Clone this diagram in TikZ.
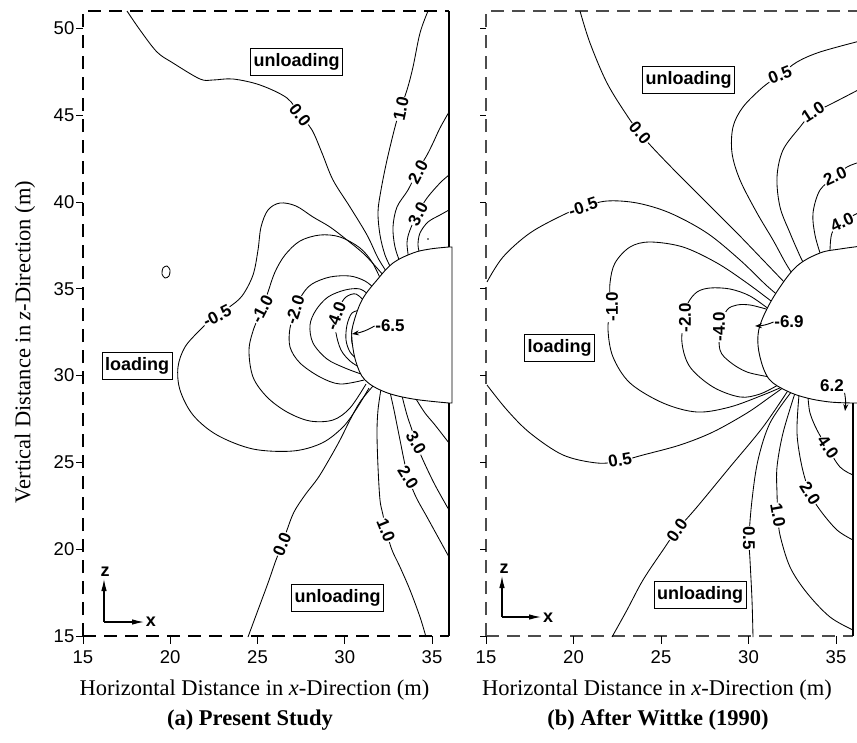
\documentclass[tikz,border=0pt]{standalone}
\usepackage{fontspec}
\setmainfont{Liberation Serif}
\setsansfont{Liberation Sans}
\usetikzlibrary{arrows.meta}
\tikzset{
  cline/.style={line width=0.85pt, line join=round},
  clab/.style={font=\fontsize{17}{17}\selectfont\sffamily\bfseries, fill=white, inner sep=0.6pt},
  zonebox/.style={draw, line width=0.8pt, font=\fontsize{18}{18}\selectfont\sffamily\bfseries, inner xsep=3pt, inner ysep=0pt, minimum height=27pt},
  framedash/.style={line width=1.2pt, dash pattern=on 13pt off 8pt},
  framesolid/.style={line width=1.2pt},
  tickln/.style={line width=1pt},
  ticklab/.style={font=\fontsize{18.5}{18.5}\selectfont\sffamily, inner sep=0pt},
  axtitle/.style={font=\fontsize{22.5}{22.5}\selectfont, inner sep=0pt},
  captxt/.style={font=\fontsize{22.5}{22.5}\selectfont\bfseries, inner sep=0pt},
  axarrow/.style={line width=1.1pt, -{Latex[length=12pt,width=5.5pt]}},
  axletter/.style={font=\fontsize{18}{18}\selectfont\sffamily\bfseries, inner sep=0pt},
  minarrow/.style={line width=0.9pt, -{Stealth[length=7pt,width=5pt]}},
  tunnel/.style={line width=0.9pt, fill=white}
}
\begin{document}
\begin{tikzpicture}[x=1pt,y=-1pt]
\useasboundingbox (0,0) rectangle (857,742);

% ================= PANEL A frame =================
\draw[framedash] (83,636) -- (83,11) -- (449,11);
\draw[framedash] (83,636) -- (449,636);
% ================= PANEL B frame =================
\draw[framedash, black!70] (486,636) -- (486,11) -- (870,11);
\draw[framedash, black!70] (486,636) -- (853,636);

% ticks
\foreach \v/\yy in {15/636,20/549.2,25/462.4,30/375.6,35/288.8,40/202,45/115.2,50/28.4} {
  \draw[tickln] (76,\yy) -- (83,\yy);
  \draw[tickln] (480,\yy) -- (486,\yy);
  \node[ticklab, anchor=east] (ya\v) at (74.5,\yy) {\v};
}
\foreach \v/\xx in {15/83,20/170.25,25/257.5,30/344.75,35/432} {
  \draw[tickln] (\xx,636) -- (\xx,644);
  \node[ticklab] (xa\v) at (\xx,657) {\v};
}
\foreach \v/\xx in {15/486,20/573.5,25/661,30/748.5,35/836} {
  \draw[tickln] (\xx,636) -- (\xx,644);
  \node[ticklab] (xb\v) at (\xx,657) {\v};
}

% ================= PANEL A contours =================
% 0.0 upper
\draw[cline] plot[smooth, tension=0.55] coordinates {(127,11) (140,30) (157,52) (173,63) (200,79) (213,80) (233,79) (260,85) (287,98) (300,115) (312,130) (322,153) (333,180) (350,207) (367,235) (378,258) (388,274)};
% 1.0 upper
\draw[cline] plot[smooth, tension=0.55] coordinates {(428,11) (420,33) (413,67) (407,90) (400,110) (395,127) (387,160) (381,190) (378,212) (380,235) (385,255) (392,270)};
% 2.0 upper
\draw[cline] plot[smooth, tension=0.55] coordinates {(449,112) (440,128) (433,143) (427,155) (417,172) (408,190) (397,207) (393,227) (395,247) (401,265)};
% 3.0 upper
\draw[cline] plot[smooth, tension=0.55] coordinates {(449,175) (440,183) (427,198) (418,213) (410,230) (407,243) (409,260)};
% 4.0 upper
\draw[cline] plot[smooth, tension=0.55] coordinates {(449,210) (440,215) (428,222) (420,233) (418,245) (420,255)};
\fill (428,239) circle (0.9);
% -0.5 loop
\draw[cline] plot[smooth, tension=0.55] coordinates {(384,276) (365,255) (347,240) (330,227) (313,217) (296,206) (280,203) (268,210) (261,227) (258,250) (253,275) (242,296) (228,308) (215,316) (200,330) (185,347) (178,367) (180,390) (193,415) (217,435) (253,449) (293,451) (322,443) (343,427) (357,408) (369,388)};
% -1.0 loop
\draw[cline] plot[smooth, tension=0.55] coordinates {(381,280) (372,262) (360,248) (340,237) (320,235) (300,241) (285,255) (275,272) (268,292) (262,310) (254,328) (249,350) (253,377) (267,397) (287,412) (310,421) (333,420) (350,408) (366,384)};
% -2.0 loop
\draw[cline] plot[smooth, tension=0.55] coordinates {(375,289) (365,281) (350,276) (330,277) (312,284) (302,295) (296,310) (290,328) (290,347) (300,363) (320,377) (340,384) (364,380)};
% -3.0 loop
\draw[cline] plot[smooth, tension=0.55] coordinates {(370,296) (360,289) (345,290) (328,297) (316,310) (310,325) (313,343) (327,359) (345,368) (361,374)};
% -4.0 loop
\draw[cline] plot[smooth, tension=0.55] coordinates {(366,303) (356,294) (346,297) (340,306) (336,318) (336,333) (341,350) (350,361) (359,367)};
% -5.0 loop
\draw[cline] plot[smooth, tension=0.55] coordinates {(361,310) (352,313) (347,325) (346,340) (350,352) (357,359)};
% -6.0 loop
\draw[cline] plot[smooth, tension=0.55] coordinates {(357,320) (352,330) (352,343) (356,352)};
% 0.0 lower
\draw[cline] plot[smooth, tension=0.55] coordinates {(373,386) (360,402) (350,420) (340,440) (330,458) (318,478) (305,495) (294,512) (287,530) (282,545) (276,560) (268,583) (258,610) (248,637)};
% 1.0 lower
\draw[cline] plot[smooth, tension=0.55] coordinates {(381,389) (378,410) (377,433) (378,467) (380,500) (383,515) (386,530) (392,550) (400,567) (410,590) (420,617) (426,637)};
% 2.0 lower
\draw[cline] plot[smooth, tension=0.55] coordinates {(390,392) (394,410) (397,425) (400,440) (404,460) (408,477) (416,497) (427,517) (438,537) (449,557)};
% 3.0 lower
\draw[cline] plot[smooth, tension=0.55] coordinates {(402,396) (407,415) (412,430) (416,443) (423,460) (435,485) (449,510)};
% 4.0 lower
\draw[cline] plot[smooth, tension=0.55] coordinates {(416,399) (425,413) (435,425) (449,443)};
% small closed contour
\draw[cline] plot[smooth cycle] coordinates {(163,268) (167,266) (170,270) (169,276) (165,278) (162,274)};

% tunnel A
\draw[tunnel] plot[smooth, tension=0.6] coordinates {(449,247) (430,249) (413,253) (393,263) (377,280) (362,300) (353,325) (352,340) (356,362) (365,380) (385,392) (413,399) (449,403)} -- (452,403) -- (452,247) -- cycle;
\draw[framesolid] (449,11) -- (449,247);
\draw[framesolid] (449,403) -- (449,636);

% ================= PANEL B contours =================
% 0.0 upper
\draw[cline] plot[smooth, tension=0.55] coordinates {(580,11) (590,43) (607,83) (628,117) (640,133) (652,147) (677,173) (707,203) (737,233) (763,260) (786,284)};
% -0.5
\draw[cline] plot[smooth, tension=0.55] coordinates {(487,282) (503,257) (530,233) (563,215) (583,207) (607,201) (637,203) (670,213) (707,233) (740,260) (766,285) (780,297)};
% -1.0
\draw[cline] plot[smooth, tension=0.55] coordinates {(775,304) (747,283) (717,263) (683,247) (650,242) (630,247) (615,263) (610,283) (610,307) (608,330) (613,357) (630,383) (663,403) (697,412) (730,407) (763,395) (782,387)};
% -2.0
\draw[cline] plot[smooth, tension=0.55] coordinates {(770,310) (750,296) (730,289) (710,288) (697,292) (688,303) (684,318) (682,343) (690,367) (713,387) (740,397) (760,394) (778,385)};
% -4.0
\draw[cline] plot[smooth, tension=0.55] coordinates {(766,309) (750,305) (737,305) (727,310) (720,327) (720,350) (730,362) (747,372) (770,377)};
% 0.5 upper
\draw[cline] plot[smooth, tension=0.55] coordinates {(860,41) (820,52) (797,62) (780,75) (763,87) (743,107) (733,127) (732,153) (740,180) (757,213) (773,240) (785,262) (793,275)};
% 1.0 upper
\draw[cline] plot[smooth, tension=0.55] coordinates {(860,89) (827,106) (813,112) (800,127) (783,150) (777,177) (780,207) (790,233) (800,256) (805,266)};
% 2.0 upper
\draw[cline] plot[smooth, tension=0.55] coordinates {(860,162) (847,167) (835,177) (820,190) (813,213) (815,235) (821,256)};
% 4.0 upper
\draw[cline] plot[smooth, tension=0.55] coordinates {(860,212) (842,222) (832,233) (830,251)};
% 0.5 from left edge
\draw[cline] plot[smooth, tension=0.55] coordinates {(487,385) (507,410) (530,433) (563,455) (597,463) (620,461) (643,455) (680,445) (713,432) (747,413) (770,397) (784,387)};
% 0.0 lower
\draw[cline] plot[smooth, tension=0.55] coordinates {(789,389) (763,427) (730,467) (697,507) (677,530) (663,550) (643,580) (627,610) (612,637)};
% 0.5 lower
\draw[cline] plot[smooth, tension=0.55] coordinates {(792,391) (770,423) (758,460) (752,500) (749,538) (750,560) (752,600) (753,637)};
% 1.0 lower
\draw[cline] plot[smooth, tension=0.55] coordinates {(795,393) (783,433) (777,467) (777,493) (778,515) (780,535) (790,567) (807,593) (830,617) (853,630)};
% 2.0 lower
\draw[cline] plot[smooth, tension=0.55] coordinates {(799,395) (797,433) (802,467) (810,493) (820,510) (837,530) (853,540)};
% 4.0 lower
\draw[cline] plot[smooth, tension=0.55] coordinates {(808,397) (810,413) (817,430) (827,447) (840,467) (853,475)};

% tunnel B
\draw[tunnel] plot[smooth, tension=0.6] coordinates {(862,246) (840,249) (820,253) (797,266) (778,290) (764,315) (758,335) (760,357) (769,379) (787,391) (807,398) (830,402) (853,403)} -- (862,403) -- cycle;
\draw[framesolid] (853,403) -- (853,636);

% ================= contour labels A =================
\node[clab, rotate=-52] (la00u) at (300,115) {0.0};
\node[clab, rotate=78] (la10u) at (401,109) {1.0};
\node[clab, rotate=62] (la20u) at (418,172) {2.0};
\node[clab, rotate=62] (la30u) at (418,214) {3.0};
\node[clab, rotate=27] (lam05) at (217,316) {-0.5};
\node[clab, rotate=63] (lam10) at (262,309) {-1.0};
\node[clab, rotate=72] (lam20) at (295,310) {-2.0};
\node[clab, rotate=70] (lam40) at (336,316) {-4.0};
\node[clab, rotate=68] (la00l) at (282,544) {0.0};
\node[clab, rotate=-68] (la10l) at (386,530) {1.0};
\node[clab, rotate=-58] (la20l) at (408,477) {2.0};
\node[clab, rotate=-60] (la30l) at (416,443) {3.0};
\node[clab, fill=none] (lamin) at (390,326) {-6.5};
\draw[minarrow] (lamin.west) to[bend left=10] (352,334);

% ================= contour labels B =================
\node[clab, rotate=-50] (lb00u) at (640,133) {0.0};
\node[clab, rotate=18] (lbm05) at (583,207) {-0.5};
\node[clab, rotate=90] (lbm10) at (612,307) {-1.0};
\node[clab, rotate=90] (lbm20) at (685,318) {-2.0};
\node[clab, rotate=90] (lbm40) at (719,327) {-4.0};
\node[clab, rotate=22] (lb05u) at (780,75) {0.5};
\node[clab, rotate=33] (lb10u) at (813,112) {1.0};
\node[clab, rotate=25] (lb20u) at (835,176) {2.0};
\node[clab, rotate=25] (lb40u) at (842,222) {4.0};
\node[clab, rotate=10] (lb05l) at (620,460) {0.5};
\node[clab, rotate=55] (lb00l) at (677,530) {0.0};
\node[clab, rotate=-90] (lb05b) at (749,538) {0.5};
\node[clab, rotate=-80] (lb10l) at (778,515) {1.0};
\node[clab, rotate=-58] (lb20l) at (810,493) {2.0};
\node[clab, rotate=-55] (lb40l) at (828,447) {4.0};
\node[clab, fill=none] (lbmin) at (789,322) {-6.9};
\draw[minarrow] (lbmin.west) to[bend left=10] (755,326);
\node[clab, fill=none] (lbmax) at (832,386) {6.2};
\coordinate (lbmaxtip) at (845,411);
\draw[minarrow] (lbmax.south east) to[bend left=8] (lbmaxtip);

% ================= zone boxes =================
\node[zonebox] (ua1) at (296.5,61.5) {unloading};
\node[zonebox] (la1) at (137,365.5) {loading};
\node[zonebox] (ua2) at (337.5,598) {unloading};
\node[zonebox] (ub1) at (688.5,80) {unloading};
\node[zonebox] (lb1) at (559.5,347.5) {loading};
\node[zonebox] (ub2) at (700,595) {unloading};

% ================= axis indicators =================
\coordinate (oa) at (104,622);
\coordinate (oaz) at (104,579);
\coordinate (oax) at (144,622);
\draw[axarrow] (oa) -- (oaz);
\draw[axarrow] (oa) -- (oax);
\node[axletter] (za) at (105,572) {z};
\node[axletter] (xa) at (151,622) {x};
\coordinate (ob) at (502,617);
\coordinate (obz) at (502,576);
\coordinate (obx) at (541,617);
\draw[axarrow] (ob) -- (obz);
\draw[axarrow] (ob) -- (obx);
\node[axletter] (zb) at (504,569) {z};
\node[axletter] (xb) at (548,618) {x};

% ================= titles =================
\node[axtitle, rotate=90] (yt) at (25,342) {Vertical Distance in \textit{z}-Direction (m)};
\node[axtitle] (xta) at (254.5,690) {Horizontal Distance in \textit{x}-Direction (m)};
\node[axtitle] (xtb) at (657,690) {Horizontal Distance in \textit{x}-Direction (m)};
\node[captxt] (capa) at (250,720) {(a) Present Study};
\node[captxt] (capb) at (658,720) {(b) After Wittke (1990)};
\end{tikzpicture}
\end{document}
